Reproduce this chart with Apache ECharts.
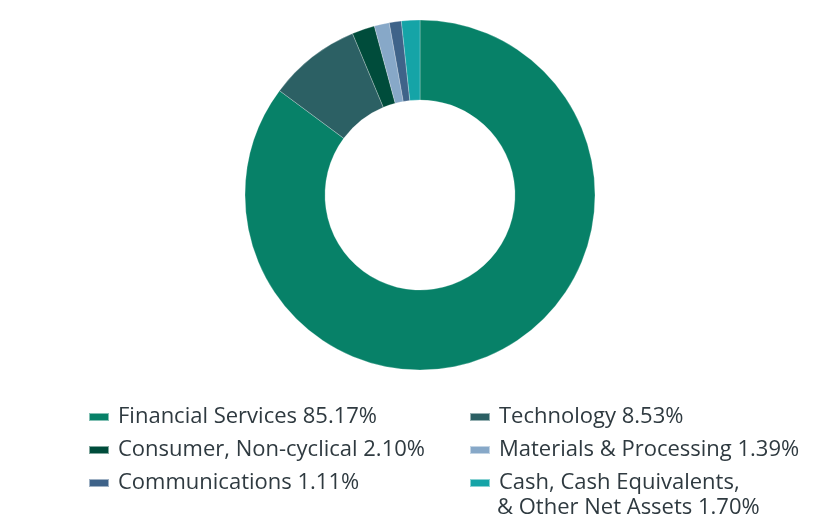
<!DOCTYPE html>
<html>
<head>
<meta charset="utf-8">
<script src="https://cdn.jsdelivr.net/npm/echarts@6/dist/echarts.min.js"></script>
<style>
  html, body { margin: 0; padding: 0; background: #fff; }
  #chart { width: 840px; height: 528px; }
</style>
</head>
<body>
<div id="chart"></div>
<script>
// sector weights, clockwise from 12 o'clock
var sectors = ['Financial Services', 'Technology', 'Consumer, Non-cyclical',
  'Materials & Processing', 'Communications', 'Cash, Cash Equivalents, & Other Net Assets'];
var weights = [85.17, 8.53, 2.10, 1.39, 1.11, 1.70];
var colors = ['#078168', '#2c6064', '#004c3b', '#87a8c8', '#3f6389', '#15a4a7'];

var leftCol = [sectors[0], sectors[2], sectors[4]];
var rightCol = [sectors[1], sectors[3], sectors[5]];

var chart = echarts.init(document.getElementById('chart'));

function label(name) {
  var i = sectors.indexOf(name);
  var pct = weights[i].toFixed(2) + '%';
  if (i === 5) return 'Cash, Cash Equivalents,';
  return name + ' ' + pct;
}

var legendBase = {
  orient: 'vertical',
  icon: 'rect',
  padding: 0,
  itemWidth: 20,
  itemHeight: 8,
  itemGap: 11,
  selectedMode: false,
  textStyle: { fontFamily: 'Open Sans', fontSize: 22, lineHeight: 22, color: '#2f3a40', padding: [0, 0, 0, 4] },
  formatter: label
};

chart.setOption({
  animation: false,
  color: colors,
  legend: [
    Object.assign({ left: 88, top: 406, data: leftCol }, legendBase),
    Object.assign({ left: 469, top: 406, data: rightCol }, legendBase)
  ],
  graphic: [{
    type: 'text',
    left: 497,
    top: 497,
    style: {
      text: '& Other Net Assets ' + weights[5].toFixed(2) + '%',
      font: '22px "Open Sans"',
      lineHeight: 22,
      fill: '#2f3a40'
    }
  }],
  series: [{
    type: 'pie',
    center: [420, 195],
    radius: [95, 175],
    startAngle: 90,
    clockwise: true,
    label: { show: false },
    labelLine: { show: false },
    itemStyle: { borderColor: 'rgba(255,255,255,0.5)', borderWidth: 0.5 },
    data: sectors.map(function (s, i) { return { name: s, value: weights[i] }; })
  }]
});
</script>
</body>
</html>
